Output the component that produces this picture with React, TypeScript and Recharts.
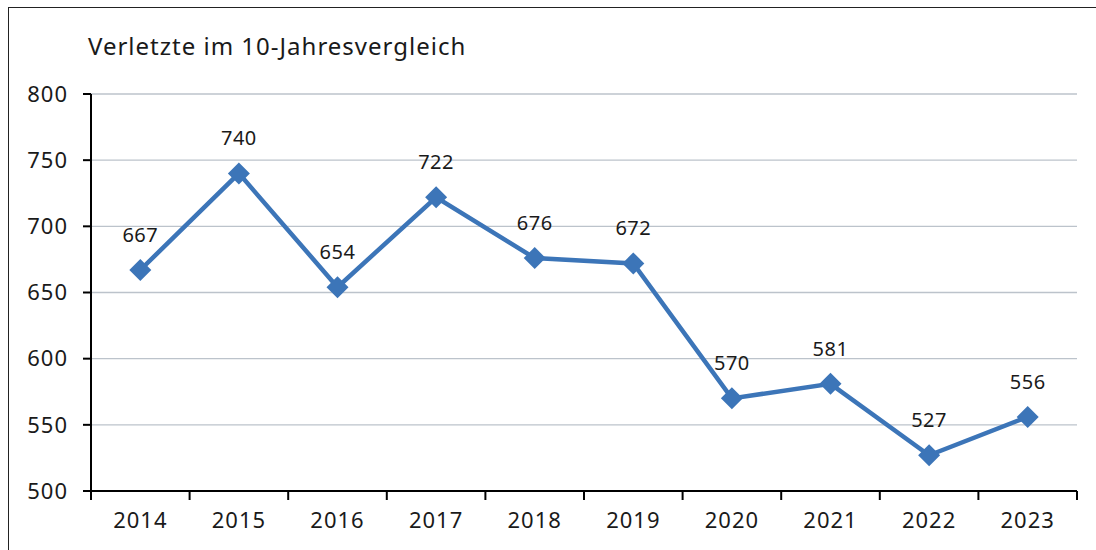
import { LineChart, Line, XAxis, YAxis, CartesianGrid, LabelList } from 'recharts';

const years = ['2014', '2015', '2016', '2017', '2018', '2019', '2020', '2021', '2022', '2023'];
const injured = [667, 740, 654, 722, 676, 672, 570, 581, 527, 556];
const yTicks = [500, 550, 600, 650, 700, 750, 800];

const data = years.map((year, i) => ({ idx: i, year, value: injured[i] }));
// year positions plus the boundaries between them (tick marks sit on the boundaries)
const xTicks = [-0.5, ...years.flatMap((_, i) => [i, i + 0.5])];

const font = '"Noto Sans", sans-serif';
const blue = '#3C75B8';

const Diamond = (props: any) => {
  const { cx, cy } = props;
  if (cx == null || cy == null) return null;
  const r = 11;
  return (
    <polygon
      points={`${cx},${cy - r} ${cx + r},${cy} ${cx},${cy + r} ${cx - r},${cy}`}
      fill={blue}
    />
  );
};

const XTick = (props: any) => {
  const { x, y, payload } = props;
  const v = payload.value as number;
  if (!Number.isInteger(v)) {
    return <line x1={x} y1={y} x2={x} y2={y + 9} stroke="#000" strokeWidth={2} />;
  }
  return (
    <text
      x={x}
      y={y + 37}
      textAnchor="middle"
      fill="#1a1a1a"
      fontSize={22}
      letterSpacing={1}
      fontFamily={font}
    >
      {years[v]}
    </text>
  );
};

export default function App() {
  return (
    <div
      style={{
        position: 'absolute',
        left: 8,
        top: 7,
        width: 1088,
        height: 543,
        borderTop: '1.5px solid #222',
        borderLeft: '1.5px solid #222',
        boxSizing: 'border-box',
        fontFamily: font,
        overflow: 'hidden',
      }}
    >
      <div
        style={{
          position: 'absolute',
          left: 79,
          top: 24,
          fontSize: 24,
          letterSpacing: 1,
          color: '#1a1a1a',
          lineHeight: '28px',
        }}
      >
        Verletzte im 10-Jahresvergleich
      </div>
      <div style={{ position: 'absolute', left: 0, top: 0 }}>
        <LineChart
          width={1083}
          height={541}
          data={data}
          margin={{ top: 86, right: 15, bottom: 10, left: 0 }}
        >
          <CartesianGrid vertical={false} stroke="#BCC3CB" strokeWidth={1.3} />
          <XAxis
            dataKey="idx"
            type="number"
            domain={[-0.5, years.length - 0.5]}
            ticks={xTicks}
            tick={<XTick />}
            tickLine={false}
            tickSize={0}
            tickMargin={0}
            axisLine={{ stroke: '#000', strokeWidth: 2 }}
            height={48}
            interval={0}
          />
          <YAxis
            domain={[500, 800]}
            ticks={yTicks}
            width={82}
            tickSize={8}
            tickMargin={15}
            tick={{ fill: '#1a1a1a', fontSize: 22, fontFamily: font, letterSpacing: 1 }}
            tickLine={{ stroke: '#000', strokeWidth: 2 }}
            axisLine={{ stroke: '#000', strokeWidth: 2 }}
            interval={0}
          />
          <Line
            dataKey="value"
            stroke={blue}
            strokeWidth={4.5}
            dot={<Diamond />}
            activeDot={false}
            isAnimationActive={false}
          >
            <LabelList
              dataKey="value"
              position="top"
              offset={28}
              style={{ fill: '#1a1a1a', fontSize: 20, fontFamily: font, letterSpacing: 0.5 }}
            />
          </Line>
        </LineChart>
      </div>
    </div>
  );
}
